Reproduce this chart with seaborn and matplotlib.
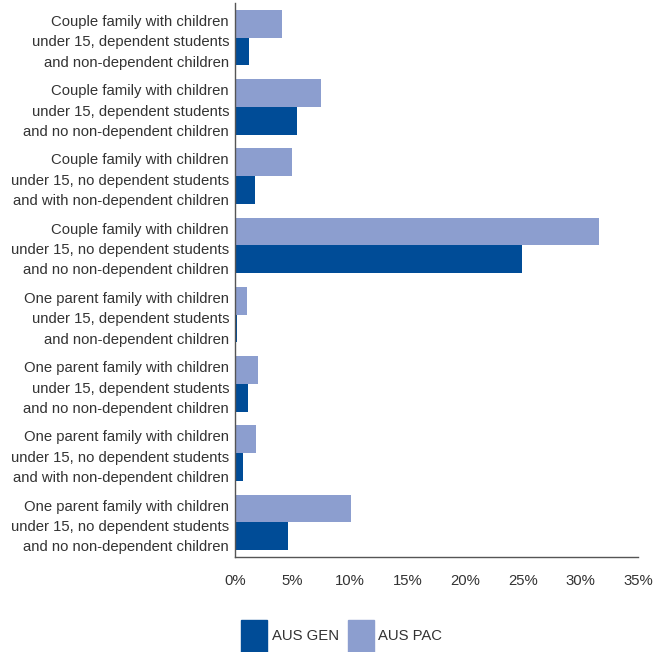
import pandas as pd
import matplotlib.pyplot as plt
import seaborn as sns
from matplotlib.patches import Patch
from matplotlib.ticker import FuncFormatter

# 数据
categories = [
    "Couple family with children\nunder 15, dependent students\nand non-dependent children",
    "Couple family with children\nunder 15, dependent students\nand no non-dependent children",
    "Couple family with children\nunder 15, no dependent students\nand with non-dependent children",
    "Couple family with children\nunder 15, no dependent students\nand no non-dependent children",
    "One parent family with children\nunder 15, dependent students\nand non-dependent children",
    "One parent family with children\nunder 15, dependent students\nand no non-dependent children",
    "One parent family with children\nunder 15, no dependent students\nand with non-dependent children",
    "One parent family with children\nunder 15, no dependent students\nand no non-dependent children",
]
aus_pac = [4.1, 7.5, 4.95, 31.6, 1.0, 2.0, 1.8, 10.1]
aus_gen = [1.2, 5.4, 1.7, 24.9, 0.2, 1.1, 0.7, 4.6]
series_names = ["AUS PAC", "AUS GEN"]
colors = {"AUS PAC": "#8c9ecf", "AUS GEN": "#004c97"}
xticks = [0, 5, 10, 15, 20, 25, 30, 35]

df = pd.DataFrame({
    "Category": categories * 2,
    "Series": ["AUS PAC"] * len(categories) + ["AUS GEN"] * len(categories),
    "Value": aus_pac + aus_gen,
})

sns.set_theme(style="white")
plt.rcParams['font.family'] = ['Liberation Sans', 'DejaVu Sans']
text_color = "#333333"
fs = 10.7

fig = plt.figure(figsize=(6.57, 6.52), dpi=100)
ax = fig.add_axes([0.3577, 0.1457, 0.6133, 0.8497])

sns.barplot(data=df, y="Category", x="Value", hue="Series", hue_order=series_names,
            order=categories, palette=colors, orient="h", width=0.8,
            saturation=1, linewidth=0, legend=False, ax=ax)

ax.set_xlim(0, 35)
ax.set_xticks(xticks)
ax.xaxis.set_major_formatter(FuncFormatter(lambda v, p: f"{v:.0f}%"))
ax.set_xlabel("")
ax.set_ylabel("")
ax.tick_params(axis="both", length=0, labelsize=fs, colors=text_color)
ax.tick_params(axis="x", pad=12)
ax.tick_params(axis="y", pad=4.3)
for lab in ax.get_yticklabels():
    lab.set_linespacing(1.58)

sns.despine(ax=ax, top=True, right=True)
for s in ["left", "bottom"]:
    ax.spines[s].set_color("#555555")
    ax.spines[s].set_linewidth(1.0)

handles = [Patch(color=colors["AUS GEN"], label="AUS GEN"),
           Patch(color=colors["AUS PAC"], label="AUS PAC")]
fig.legend(handles=handles, loc="lower left", bbox_to_anchor=(234 / 657, -0.012), ncol=2,
           frameon=False, fontsize=fs, handlelength=1.75, handleheight=3.0,
           borderpad=0, handletextpad=0.3, columnspacing=0.6, labelcolor=text_color)

fig.savefig("out.png", dpi=100)
